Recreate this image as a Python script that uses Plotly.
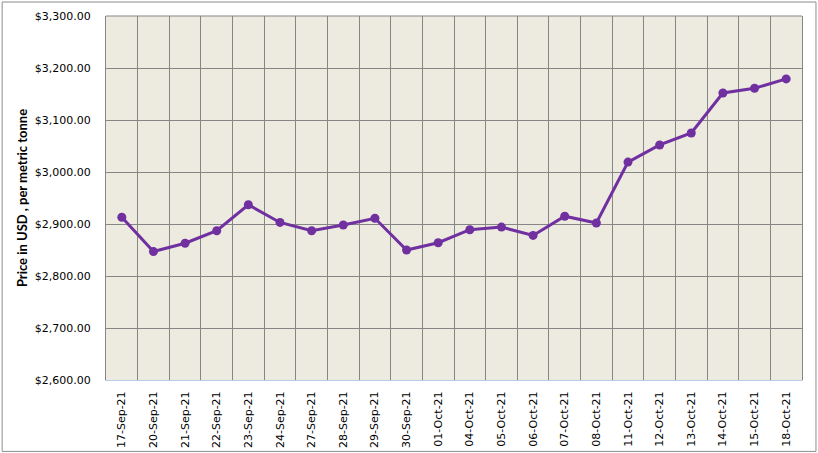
import plotly.graph_objects as go

dates = ["17-Sep-21", "20-Sep-21", "21-Sep-21", "22-Sep-21", "23-Sep-21", "24-Sep-21",
         "27-Sep-21", "28-Sep-21", "29-Sep-21", "30-Sep-21", "01-Oct-21", "04-Oct-21",
         "05-Oct-21", "06-Oct-21", "07-Oct-21", "08-Oct-21", "11-Oct-21", "12-Oct-21",
         "13-Oct-21", "14-Oct-21", "15-Oct-21", "18-Oct-21"]
prices = [2913, 2847, 2863, 2887, 2937, 2903, 2887, 2898, 2911, 2850, 2864, 2889,
          2894, 2878, 2915, 2902, 3019, 3052, 3075, 3152, 3161, 3179]
y_ticks = [2600, 2700, 2800, 2900, 3000, 3100, 3200, 3300]
y_labels = ["$" + f"{v:,.2f}" for v in y_ticks]

W, H = 818, 453
ml, mr, mt, mb = 105.5, 15.5, 15.5, 73
pw, ph = W - ml - mr, H - mt - mb

fig = go.Figure()
fig.add_trace(go.Scatter(
    x=dates, y=prices, mode="lines+markers",
    line=dict(color="#7030A0", width=3),
    marker=dict(color="#7030A0", size=9),
    showlegend=False,
))

fig.update_layout(
    width=W, height=H,
    margin=dict(l=ml, r=mr, t=mt, b=mb, pad=0, autoexpand=False),
    paper_bgcolor="white",
    plot_bgcolor="#EDEAE0",
    font=dict(family="DejaVu Sans", size=11, color="black"),
    xaxis=dict(
        type="category", tickson="boundaries", showgrid=True,
        range=[-0.5, len(dates) - 0.5], automargin=False,
        gridcolor="#868686", gridwidth=1,
        tickangle=-90, ticks="", ticklabelstandoff=6,
        showline=True, linecolor="#B9CDE5", linewidth=1,
        tickfont=dict(family="DejaVu Sans", size=11),
    ),
    yaxis=dict(
        range=[2600, 3300], tickvals=y_ticks, ticktext=y_labels,
        showgrid=True, gridcolor="#868686", gridwidth=1, automargin=False,
        showline=True, linecolor="#868686", linewidth=1, mirror=True,
        ticks="", ticklabelstandoff=12, zeroline=False,
        title=dict(text="<b>Price in USD , per metric tonne</b>",
                   font=dict(family="Lato", size=13), standoff=4),
        tickfont=dict(family="DejaVu Sans", size=11),
    ),
    shapes=[
        dict(type="line", xref="paper", yref="paper", x0=0, x1=1, y0=1, y1=1,
             line=dict(color="#868686", width=1)),
        dict(type="rect", xref="paper", yref="paper",
             x0=(1.5 - ml) / pw, x1=(W - 1.5 - ml) / pw,
             y0=-(mb - 1.5) / ph, y1=1 + (mt - 1.5) / ph,
             line=dict(color="#8C8C8C", width=1), fillcolor="rgba(0,0,0,0)",
             layer="below"),
    ],
)

fig.write_html("out.html")
